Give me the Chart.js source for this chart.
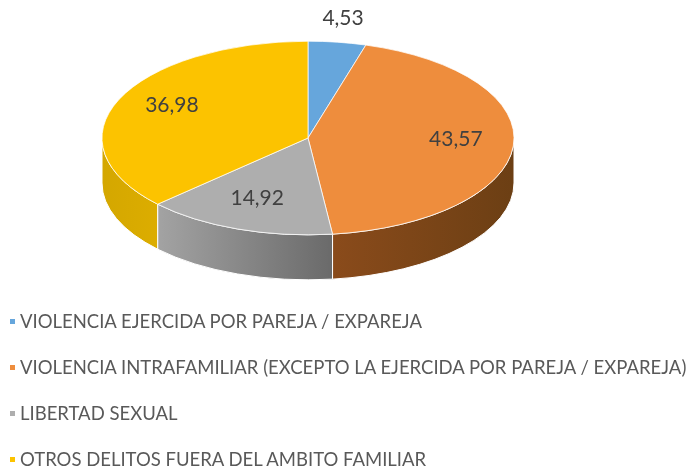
<!DOCTYPE html>
<html>
<head>
<meta charset="utf-8">
<script src="https://cdn.jsdelivr.net/npm/chart.js@4"></script>
<style>
  body { margin: 0; background: #fff; width: 686px; height: 467px; overflow: hidden; position: relative; }
  #wrap { position: absolute; left: 0; top: 0; width: 686px; height: 300px; }
  #legend { position: absolute; left: 0; top: 298px; width: 686px; font-family: Lato, "Open Sans", sans-serif; font-size: 18.5px; color: #595959; }
  #legend div { height: 46px; line-height: 46px; white-space: nowrap; }
  #legend span.box { display: inline-block; width: 5px; height: 5px; margin: 0 5px 0 10px; vertical-align: middle; position: relative; top: -2px; }
</style>
</head>
<body>
<div id="wrap"><canvas id="myChart"></canvas></div>
<div id="legend"></div>
<script>
let categoryNames = ['VIOLENCIA EJERCIDA POR PAREJA / EXPAREJA',
'VIOLENCIA INTRAFAMILIAR (EXCEPTO LA EJERCIDA POR PAREJA / EXPAREJA)',
'LIBERTAD SEXUAL',
'OTROS DELITOS FUERA DEL AMBITO FAMILIAR'];

let percentValues = [4.53, 43.57, 14.92, 36.98];

// top face colours and the darker ones for the side wall (left -> right)
const topColors = ['#66A6DC', '#EE8D3D', '#AEAEAE', '#FCC300'];
const wallColors = [['#4f86b8', '#3f6f99'], ['#8a4b1b', '#6c3f14'], ['#a3a3a3', '#6a6a6a'], ['#d4a700', '#dcad00']];

const SQUASH = 0.47;   // ry / rx of the tilted pie
const DEPTH = 45;      // thickness of the pie

function fmt(v) {
    return v.toFixed(2).replace('.', ',');
}

const pie3d = {
    id: 'pie3d',
    beforeDatasetsDraw(chart) {
        const ctx = chart.ctx;
        const arcs = chart.getDatasetMeta(0).data;
        arcs.forEach(function(arc, i) {
            const lo = Math.max(arc.startAngle, 0);
            const hi = Math.min(arc.endAngle, Math.PI);
            if (lo >= hi) return;
            const cx = arc.x, cy = arc.y, r = arc.outerRadius;
            const x1 = cx + r * Math.cos(hi), x2 = cx + r * Math.cos(lo);
            const grad = ctx.createLinearGradient(x1, 0, x2, 0);
            grad.addColorStop(0, wallColors[i][0]);
            grad.addColorStop(1, wallColors[i][1]);
            ctx.save();
            ctx.beginPath();
            ctx.ellipse(cx, cy, r, r * SQUASH, 0, lo, hi);
            ctx.lineTo(cx + r * Math.cos(hi), cy + r * SQUASH * Math.sin(hi) + DEPTH);
            ctx.ellipse(cx, cy + DEPTH, r, r * SQUASH, 0, hi, lo, true);
            ctx.closePath();
            ctx.fillStyle = grad;
            ctx.fill();
            ctx.strokeStyle = '#ffffff';
            ctx.lineWidth = 1;
            ctx.stroke();
            ctx.restore();
        });
        // squash the flat pie into an ellipse
        const a0 = arcs[0];
        ctx.save();
        ctx.translate(a0.x, a0.y);
        ctx.scale(1, SQUASH);
        ctx.translate(-a0.x, -a0.y);
    },
    afterDatasetsDraw(chart) {
        const ctx = chart.ctx;
        ctx.restore();
        const arcs = chart.getDatasetMeta(0).data;
        ctx.save();
        ctx.font = '21px Lato, "Open Sans", sans-serif';
        ctx.fillStyle = '#404040';
        ctx.textAlign = 'center';
        ctx.textBaseline = 'middle';
        arcs.forEach(function(arc, i) {
            const mid = (arc.startAngle + arc.endAngle) / 2;
            const f = percentValues[i] < 10 ? 1.2 : 0.72;
            const x = arc.x + f * arc.outerRadius * Math.cos(mid);
            // labels on the far half sit a bit higher (perspective)
            const y = arc.y + f * arc.outerRadius * SQUASH * Math.sin(mid) - 5;
            ctx.fillText(fmt(percentValues[i]), x, y);
        });
        ctx.restore();
    }
};

let chartElement = document.getElementById('myChart').getContext('2d');

let myChart = new Chart(chartElement, {
    type: 'pie',
    data: {
        labels: categoryNames,
        datasets: [{
            data: percentValues,
            backgroundColor: topColors,
            borderColor: '#ffffff',
            borderWidth: 1,
            radius: 206,
            clip: false
        }]
    },
    options: {
        responsive: true,
        maintainAspectRatio: false,
        animation: false,
        layout: { padding: { left: 0, right: 70, top: 0, bottom: 24 } },
        plugins: {
            legend: { display: false },
            tooltip: { enabled: false }
        }
    },
    plugins: [pie3d]
});

// legend, one entry per line
const legendBox = document.getElementById('legend');
categoryNames.forEach(function(name, i) {
    const row = document.createElement('div');
    const box = document.createElement('span');
    box.className = 'box';
    box.style.background = topColors[i];
    row.appendChild(box);
    row.appendChild(document.createTextNode(name));
    legendBox.appendChild(row);
});
</script>
</body>
</html>
